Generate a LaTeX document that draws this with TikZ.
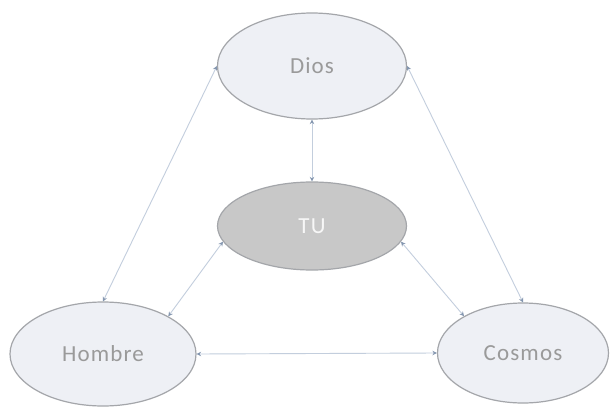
\documentclass[tikz,border=0pt]{standalone}
\usepackage{fontspec}
\setmainfont{Carlito}[LetterSpace=5]
\usetikzlibrary{shapes.geometric,arrows.meta}
\definecolor{efill}{HTML}{EEF0F5}
\definecolor{eborder}{HTML}{A4A6AA}
\definecolor{tufill}{HTML}{C8C8C8}
\definecolor{etext}{HTML}{9A9A9A}
\definecolor{lnk}{HTML}{C3CEDD}
\definecolor{tipc}{HTML}{8597B0}
\begin{document}
\begin{tikzpicture}[x=1pt,y=-1pt,
  oval/.style={ellipse,draw=eborder,line width=1.2pt,fill=efill,inner sep=0pt,
    text=etext,font=\fontsize{23}{26}\selectfont},
  link/.style={draw=lnk,line width=0.9pt,
    {Stealth[length=4.5pt,width=4.5pt,color=tipc]}-{Stealth[length=4.5pt,width=4.5pt,color=tipc]}}]
\useasboundingbox (0,0) rectangle (611,407);
\fill[white] (0,0) rectangle (611,407);
\node[oval,minimum width=189pt,minimum height=106pt] (dios) at (312,66) {Dios};
\node[oval,fill=tufill,text=white!85!tufill,minimum width=189pt,minimum height=88pt] (tu) at (312,226) {TU};
\node[oval,minimum width=186pt,minimum height=104pt] (hombre) at (103,354) {Hombre};
\node[oval,minimum width=171pt,minimum height=100pt] (cosmos) at (523,353) {Cosmos};
\draw[link] (tu.north) -- (dios.south);
\draw[link] (hombre.north) -- (dios.west);
\draw[link] (cosmos.north) -- (dios.east);
\draw[link] (hombre.east) -- (cosmos.west);
\draw[link] (tu.190) -- (hombre.30);
\draw[link] (tu.-10) -- (cosmos.148);
\end{tikzpicture}
\end{document}
